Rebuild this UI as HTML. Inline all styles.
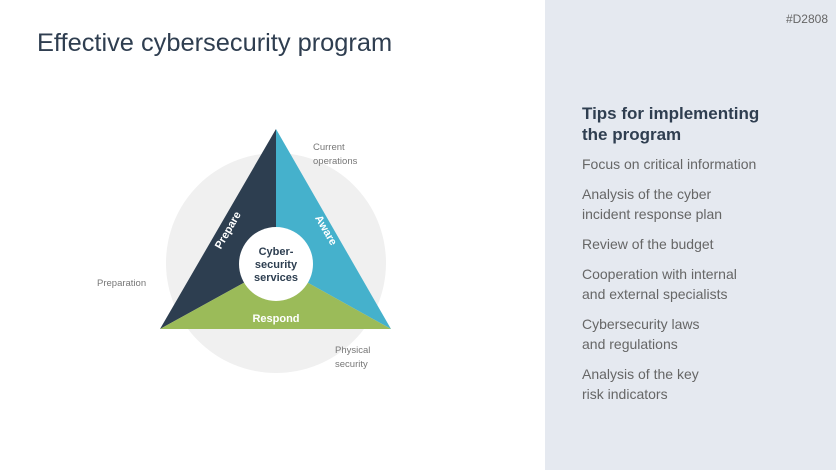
<!DOCTYPE html>
<html><head><meta charset="utf-8"><style>
body{margin:0;width:836px;height:470px;position:relative;background:#fff;font-family:"Liberation Sans",sans-serif;overflow:hidden}
.t{position:absolute;left:37px;top:29px;font-size:25.4px;color:#2f3e50}
.p{position:absolute;left:545px;top:0;width:291px;height:470px;background:#e5e9f0}
.id{position:absolute;right:8px;top:12px;font-size:12px;color:#666}
.h{position:absolute;left:37px;top:103px;font-size:17px;font-weight:bold;color:#2f3e50;line-height:21px}
.l{position:absolute;left:37px;font-size:14px;color:#666;line-height:20px}
.s{position:absolute;font-size:9.5px;color:#777;line-height:14px}
</style></head><body>
<div class="t">Effective cybersecurity program</div>
<svg width="545" height="470" style="position:absolute;left:0;top:0">
<circle cx="276" cy="263" r="110" fill="#f0f0f0"/>
<polygon points="276,129 276,265 160,329" fill="#2d3e50"/>
<polygon points="276,129 391,329 276,265" fill="#45b1cc"/>
<polygon points="160,329 276,265 391,329" fill="#9bbb59"/>
<circle cx="276" cy="264" r="37" fill="#fff"/>
<text x="276" y="255" text-anchor="middle" font-size="11" font-weight="bold" fill="#2d3e50" font-family="Liberation Sans">Cyber-</text>
<text x="276" y="268" text-anchor="middle" font-size="11" font-weight="bold" fill="#2d3e50" font-family="Liberation Sans">security</text>
<text x="276" y="281" text-anchor="middle" font-size="11" font-weight="bold" fill="#2d3e50" font-family="Liberation Sans">services</text>
<text x="276" y="322" text-anchor="middle" font-size="11" font-weight="bold" fill="#fff" font-family="Liberation Sans">Respond</text>
<text transform="translate(231,232) rotate(-60)" text-anchor="middle" font-size="11" font-weight="bold" fill="#fff" font-family="Liberation Sans">Prepare</text>
<text transform="translate(323,232) rotate(60)" text-anchor="middle" font-size="11" font-weight="bold" fill="#fff" font-family="Liberation Sans">Aware</text>
</svg>
<div class="s" style="left:313px;top:141px">Current<br>operations</div>
<div class="s" style="left:97px;top:277px">Preparation</div>
<div class="s" style="left:335px;top:344px">Physical<br>security</div>
<div class="p">
<div class="id">#D2808</div>
<div class="h">Tips for implementing<br>the program</div>
<div class="l" style="top:154px">Focus on critical information</div>
<div class="l" style="top:184px">Analysis of the cyber<br>incident response plan</div>
<div class="l" style="top:234px">Review of the budget</div>
<div class="l" style="top:264px">Cooperation with internal<br>and external specialists</div>
<div class="l" style="top:314px">Cybersecurity laws<br>and regulations</div>
<div class="l" style="top:364px">Analysis of the key<br>risk indicators</div>
</div>
</body></html>
